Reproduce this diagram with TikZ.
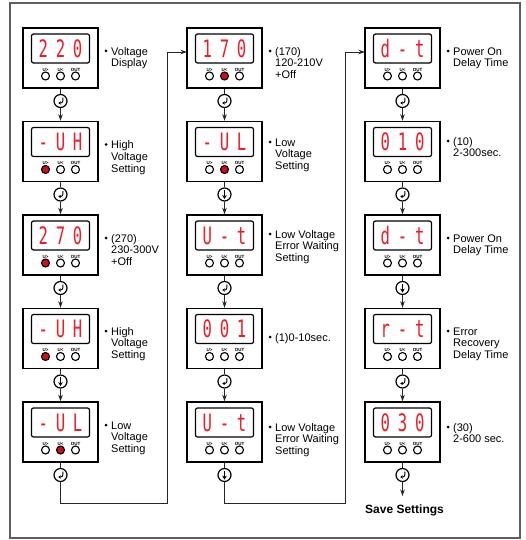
\documentclass[tikz,border=0pt]{standalone}
\usepackage{fontspec}
\setmainfont{Liberation Sans}
\newfontfamily\dispfont{DejaVu Sans Mono}
\usetikzlibrary{arrows.meta}
\definecolor{segred}{RGB}{238,28,36}
\definecolor{btnred}{RGB}{205,15,25}
\definecolor{framegray}{RGB}{95,95,95}
\tikzset{
  devbox/.style={draw=black, line width=1.4pt, minimum width=75pt, minimum height=60pt, inner sep=0pt, fill=white},
  dispbox/.style={draw=black, line width=1.2pt, rounded corners=2pt, minimum width=58pt, minimum height=29pt, inner sep=0pt, text=segred, font=\dispfont\fontsize{24}{25}\selectfont},
  btn/.style={circle, draw=black, line width=1.1pt, minimum size=8pt, inner sep=0pt, fill=white},
  btnon/.style={btn, fill=btnred},
  btnlbl/.style={font=\bfseries\fontsize{4.5}{5}\selectfont, inner sep=0pt},
  icon/.style={circle, draw=black, line width=1.2pt, minimum size=13pt, inner sep=0pt, fill=white},
  conn/.style={draw=black!85, line width=0.9pt},
  arr/.style={conn, -{Stealth[length=6.5pt,width=4.5pt]}},
  lbl/.style={font=\fontsize{11}{11.8}\selectfont, align=left, anchor=north west, inner sep=0pt},
  ldot/.style={circle, fill=black, inner sep=0pt, minimum size=3pt},
  entersym/.style={line width=0.9pt, -{Stealth[length=2.6pt,width=3.4pt]}},
  downsym/.style={line width=1pt, -{Stealth[length=4pt,width=4.6pt]}},
}
\newcommand\dsp[3]{\scalebox{0.65}[1]{#1\kern12pt#2\kern12pt#3}}
% name, cx, cy, display, U> style, U< style
\newcommand\dev[6]{%
  \node[devbox] (#1) at (#2,#3) {};
  \node[dispbox] (#1d) at (#2,#3-9.5) {#4};
  \node[#5] (#1a) at (#2-15,#3+18) {};
  \node[#6] (#1b) at (#2,#3+18) {};
  \node[btn] (#1c) at (#2+15,#3+18) {};
  \node[btnlbl] (#1la) at (#2-15,#3+11.5) {U>};
  \node[btnlbl] (#1lb) at (#2,#3+11.5) {U<};
  \node[btnlbl] (#1lc) at (#2+15,#3+11.5) {OUT};
}
% name, x (box right), y, text
\newcommand\lab[4]{%
  \node[ldot] (#1p) at (#2+8,#3) {};
  \node[lbl] (#1) at (#2+13,#3-4.3) {\strut#4};
}
\newcommand\enter[1]{\draw[entersym] ([shift={(2.4,-3.4)}]#1.center) -- ++(0,3.2) arc[start angle=0,end angle=90,radius=2.2] -- ++(-2.4,0);}
\newcommand\down[1]{\draw[downsym] ([shift={(0,-4.2)}]#1.center) -- ([shift={(0,4.6)}]#1.center);}
\begin{document}
\begin{tikzpicture}[x=1pt,y=-1pt]
\useasboundingbox (0,0) rectangle (526,540);
\draw[framegray, line width=1.5pt] (10,3) rectangle (520,538);

% column 1
\dev{b11}{60.5}{58}{\dsp{2}{2}{0}}{btn}{btn}
\dev{b12}{60.5}{151.5}{\dsp{-}{U}{H}}{btnon}{btn}
\dev{b13}{60.5}{245}{\dsp{2}{7}{0}}{btnon}{btn}
\dev{b14}{60.5}{338.5}{\dsp{-}{U}{H}}{btnon}{btn}
\dev{b15}{60.5}{432}{\dsp{-}{U}{L}}{btn}{btnon}
% column 2
\dev{b21}{224.5}{58}{\dsp{1}{7}{0}}{btn}{btnon}
\dev{b22}{224.5}{151.5}{\dsp{-}{U}{L}}{btn}{btnon}
\dev{b23}{224.5}{245}{\dsp{U}{-}{t}}{btn}{btn}
\dev{b24}{224.5}{338.5}{\dsp{0}{0}{1}}{btn}{btn}
\dev{b25}{224.5}{432}{\dsp{U}{-}{t}}{btn}{btn}
% column 3
\dev{b31}{402.5}{58}{\dsp{d}{-}{t}}{btn}{btn}
\dev{b32}{402.5}{151.5}{\dsp{0}{1}{0}}{btn}{btn}
\dev{b33}{402.5}{245}{\dsp{d}{-}{t}}{btn}{btn}
\dev{b34}{402.5}{338.5}{\dsp{r}{-}{t}}{btn}{btn}
\dev{b35}{402.5}{432}{\dsp{0}{3}{0}}{btn}{btn}

% icons
\foreach \c/\x in {1/60.5,2/224.5,3/402.5}{
  \foreach \r/\y in {1/101,2/194.5,3/288,4/381.5,5/475}{
    \node[icon] (i\c\r) at (\x,\y) {};
  }
}
\enter{i11}\enter{i12}\enter{i13}\down{i14}\enter{i15}
\enter{i21}\down{i22}\enter{i23}\enter{i24}\down{i25}
\enter{i31}\enter{i32}\down{i33}\enter{i34}\enter{i35}

% vertical connectors
\foreach \c in {1,2,3}{
  \foreach \r/\n in {1/2,2/3,3/4,4/5}{
    \draw[conn] (b\c\r.south) -- (i\c\r.north);
    \draw[arr] (i\c\r.south) -- (b\c\n.north);
  }
  \draw[conn] (b\c5.south) -- (i\c5.north);
}
% column links
\coordinate (c1) at (167,503);
\coordinate (e2) at (187,52);
\coordinate (c2) at (345,503);
\coordinate (e3) at (365,52);
\draw[arr] (i15.south) |- (c1) |- (e2);
\draw[arr] (i25.south) |- (c2) |- (e3);
\coordinate (sEnd) at (402.5,496);
\draw[arr] (i35.south) -- (sEnd);
\node[font=\bfseries\fontsize{12}{14}\selectfont, inner sep=0pt] (save) at (404.5,510) {Save Settings};

% labels
\lab{l11}{98}{51}{Voltage\\Display}
\lab{l12}{98}{144.5}{High\\Voltage\\Setting}
\lab{l13}{98}{238}{(270)\\230-300V\\+Off}
\lab{l14}{98}{331}{High\\Voltage\\Setting}
\lab{l15}{98}{425}{Low\\Voltage\\Setting}
\lab{l21}{262}{51}{(170)\\120-210V\\+Off}
\lab{l22}{262}{142}{Low\\Voltage\\Setting}
\lab{l23}{262}{234}{Low Voltage\\Error Waiting\\Setting}
\lab{l24}{262}{337}{(1)0-10sec.}
\lab{l25}{262}{427}{Low Voltage\\Error Waiting\\Setting}
\lab{l31}{440}{51}{Power On\\Delay Time}
\lab{l32}{440}{141}{(10)\\2-300sec.}
\lab{l33}{440}{238}{Power On\\Delay Time}
\lab{l34}{440}{331}{Error\\Recovery\\Delay Time}
\lab{l35}{440}{427}{(30)\\2-600 sec.}
\end{tikzpicture}
\end{document}
